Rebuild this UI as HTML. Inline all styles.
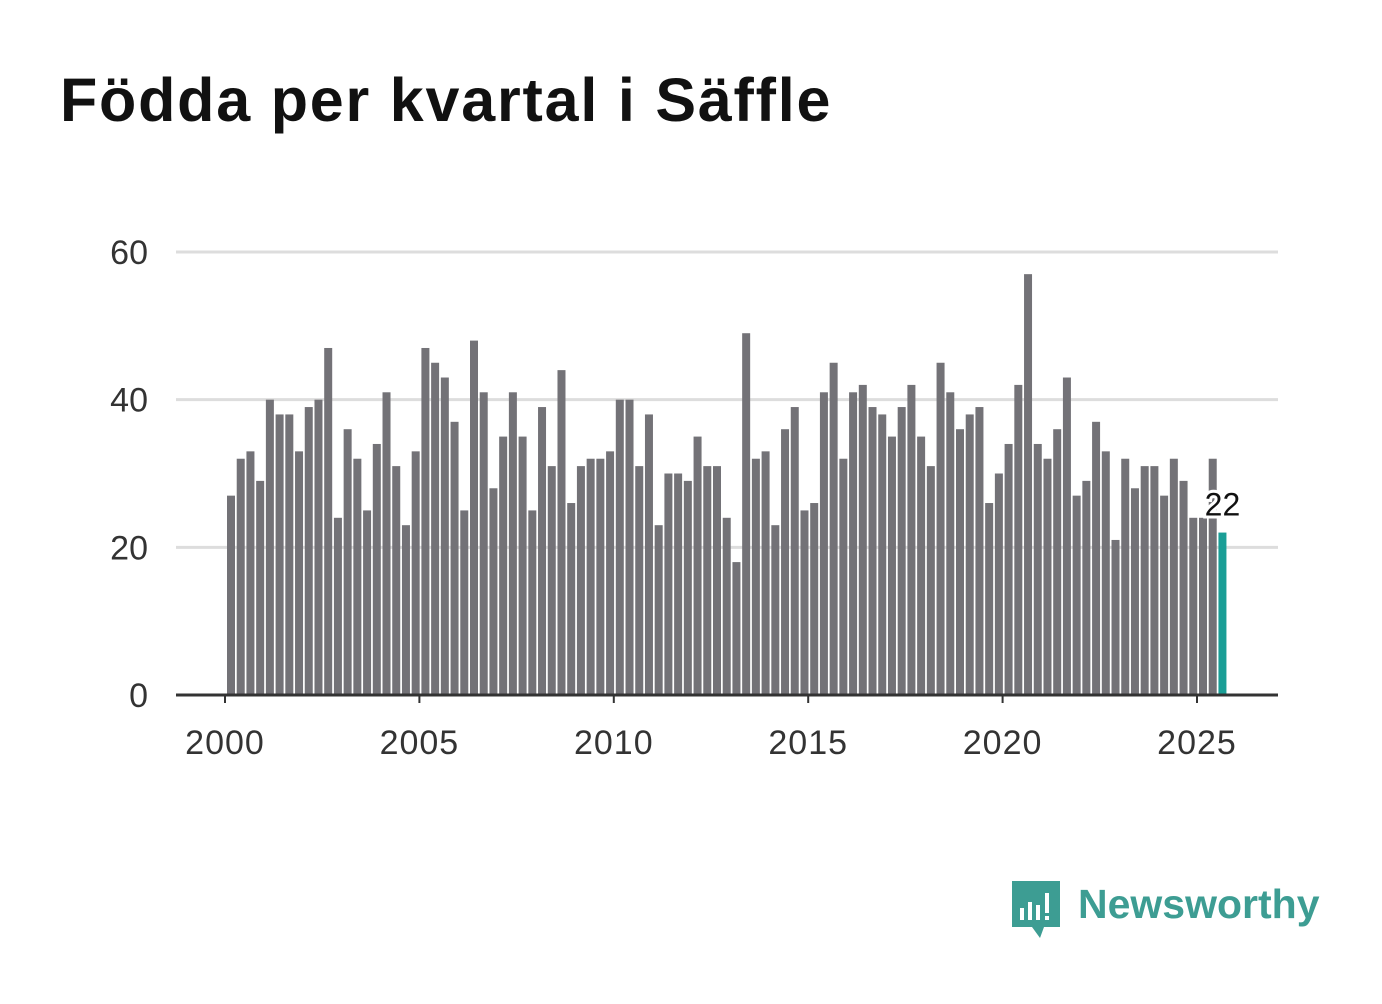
<!DOCTYPE html>
<html><head><meta charset="utf-8"><style>
body{margin:0;background:#fff;width:1382px;height:999px;overflow:hidden;font-family:"Liberation Sans",sans-serif}
</style></head><body>
<svg width="1382" height="999" xmlns="http://www.w3.org/2000/svg">
<text x="60" y="121" font-size="61" font-weight="bold" letter-spacing="1.8" fill="#111">Födda per kvartal i Säffle</text>
<g id="grid"></g><g id="bars"></g><g id="axes"></g>
<g>
<path d="M1012 881 h48 v46 h-16 l-4 11 l-8 -11 h-20 z" fill="#3d9d93"/>
<rect x="1020" y="908" width="4" height="12" fill="#fff"/><rect x="1028" y="902" width="4" height="18" fill="#fff"/><rect x="1036" y="905" width="4" height="15" fill="#fff"/><rect x="1045" y="893" width="4" height="20" fill="#fff"/><rect x="1045" y="916" width="4" height="4" fill="#fff"/>
<text x="1078" y="918" font-size="41" font-weight="bold" fill="#3d9d93">Newsworthy</text>
</g>
</svg>
<script>
const startYear=2000;
const values=[27,32,33,29,40,38,38,33,39,40,47,24,36,32,25,34,41,31,23,33,47,45,43,37,25,48,41,28,35,41,35,25,39,31,44,26,31,32,32,33,40,40,31,38,23,30,30,29,35,31,31,24,18,49,32,33,23,36,39,25,26,41,45,32,41,42,39,38,35,39,42,35,31,45,41,36,38,39,26,30,34,42,57,34,32,36,43,27,29,37,33,21,32,28,31,31,27,32,29,24,24,32,22];
const yTicks=[0,20,40,60];
const xTicks=[2000,2005,2010,2015,2020,2025];
const NS="http://www.w3.org/2000/svg";
const y=v=>695-v*(443/60);
const x=t=>225+(t-2000)*38.88;
function mk(tag,attrs,parent,txt){const e=document.createElementNS(NS,tag);for(const k in attrs)e.setAttribute(k,attrs[k]);if(txt!==undefined)e.textContent=txt;document.getElementById(parent).appendChild(e);return e;}
yTicks.forEach(v=>{
 if(v>0){const l=mk('line',{x1:176,x2:1278,y1:y(v),y2:y(v),stroke:'#ddd','stroke-width':3},'grid');
 
 }
 const t=mk('text',{x:148,y:y(v)+12,'font-size':34,fill:'#333','text-anchor':'end'},'axes',String(v));
 
 
});
values.forEach((v,i)=>{
 const t=startYear+i/4;const last=i===values.length-1;
 const r=mk('rect',{x:x(t)+2,y:y(v),width:8,height:695-y(v),fill:last?'#1a9e96':'#737277'},'bars');
 
 
});
const li=values.length-1;const lv=values[li];const lx=x(startYear+li/4)+6;
const lbl=mk('text',{x:lx,y:y(lv)-17,'font-size':32,fill:'#111','text-anchor':'middle',stroke:'#fff','stroke-width':6,'paint-order':'stroke'},'axes',String(lv));


const ax=mk('line',{x1:176,x2:1278,y1:695,y2:695,stroke:'#333','stroke-width':3},'axes');


xTicks.forEach(t=>{
 const tk=mk('line',{x1:x(t),x2:x(t),y1:695,y2:703,stroke:'#333','stroke-width':2},'axes');
 
 
 const tl=mk('text',{x:x(t),y:754,'font-size':34,fill:'#333','text-anchor':'middle','letter-spacing':1},'axes',String(t));
 
 
});
</script>
</body></html>
